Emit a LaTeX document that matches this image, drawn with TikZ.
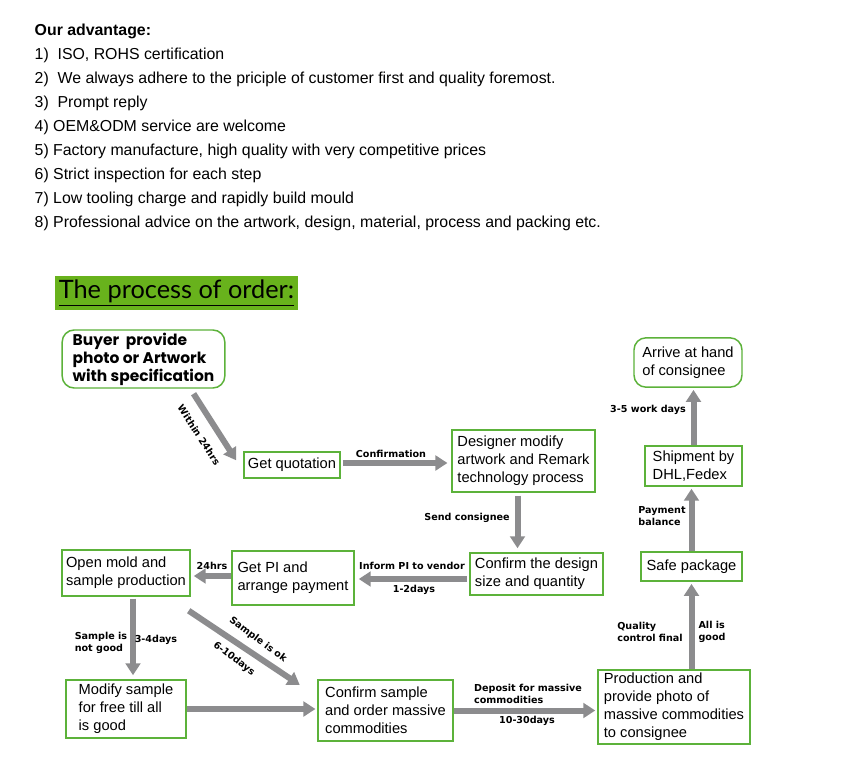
\documentclass[tikz,border=0pt]{standalone}
\usepackage{fontspec}
\setmainfont{Liberation Sans}
\newfontfamily\gothicfont{Poppins}
\newfontfamily\tagfont{DejaVu Sans}
\newfontfamily\titlefont{Lato}
\usepackage{xcolor}
\usetikzlibrary{positioning,arrows.meta,calc}
\definecolor{boxgreen}{RGB}{92,178,58}
\definecolor{titlegreen}{RGB}{104,178,28}
\definecolor{flowgray}{RGB}{140,140,142}
\tikzset{
    order box/.style={rectangle, draw=boxgreen, line width=1.1pt, fill=white, align=left, inner xsep=3pt, inner ysep=2pt, font=\fontsize{11}{13.5}\selectfont},
    start box/.style={order box, rounded corners=9pt},
    gothic/.style={font=\gothicfont\bfseries\fontsize{11.6}{13.5}\selectfont},
    tag/.style={font=\tagfont\bfseries\fontsize{7.2}{9.5}\selectfont, inner sep=1pt, align=left},
    flow/.style={draw=flowgray, line width=4.5pt, -{Triangle[length=9pt,width=11pt]}, shorten >=1.5pt}
}
\begin{document}
\begin{tikzpicture}[x=0.75pt, y=-0.75pt]
\useasboundingbox (0,0) rectangle (841,780);
\fill[white] (0,0) rectangle (841,780);

% Advantage list
\node[anchor=base west, font=\bfseries\fontsize{11.9}{13}\selectfont] (head) at (30,36) {Our advantage:};
\foreach \txt [count=\i] in {{1)~ ISO, ROHS certification},
    {2)~ We always adhere to the priciple of customer first and quality foremost.},
    {3)~ Prompt reply},
    {4) OEM\&ODM service are welcome},
    {5) Factory manufacture, high quality with very competitive prices},
    {6) Strict inspection for each step},
    {7) Low tooling charge and rapidly build mould},
    {8) Professional advice on the artwork, design, material, process and packing etc.}}
    \node[anchor=base west, font=\fontsize{11.9}{13}\selectfont] (adv\i) at (30,36+24*\i) {\txt};

% Title
\node[fill=titlegreen, minimum width=182pt, minimum height=25.5pt, inner xsep=1pt, font=\titlefont\fontsize{19}{22}\selectfont] (title) at (176.5,293) {\underline{The process of order:}};

% Main process nodes
\node[start box, gothic, minimum width=122pt, minimum height=43.5pt] (buyer) at (143.5,359) {Buyer~ provide\\photo or Artwork\\with specification};
\node[order box, minimum width=72pt, minimum height=19.5pt] (quote) at (292,465) {Get quotation};
\node[order box, minimum width=107pt, minimum height=46.5pt] (designer) at (523.5,461) {Designer modify\\artwork and Remark\\technology process};
\node[start box, minimum width=81pt, minimum height=37pt] (arrive) at (688,362.5) {Arrive at hand\\of consignee};
\node[order box, minimum width=73pt, minimum height=30pt] (ship) at (693.5,466) {Shipment by\\DHL,Fedex};
\node[order box, minimum width=76pt, minimum height=22pt] (safe) at (691.5,566.5) {Safe package};
\node[order box, minimum width=100pt, minimum height=31.5pt] (design) at (536.5,574) {Confirm the design\\size and quantity};
\node[order box, minimum width=91.5pt, minimum height=40.5pt] (getpi) at (293,578) {Get PI and\\arrange payment};
\node[order box, minimum width=96pt, minimum height=34.5pt] (openmold) at (126,573) {Open mold and\\sample production};
\node[order box, minimum width=90pt, minimum height=43.5pt] (modify) at (126,709) {Modify sample\\for free till all\\is good};
\node[order box, minimum width=101pt, minimum height=46pt] (confirmsample) at (385.5,710.5) {Confirm sample\\and order massive\\commodities};
\node[order box, minimum width=114pt, minimum height=55.5pt] (production) at (674,707) {Production and\\provide photo of\\massive commodities\\to consignee};

% Arrows
\draw[flow] ($(buyer.south east)+(-32,5)$) -- ($(quote.west)+(-6,-3)$);
\draw[flow] ($(quote.east)+(2,-2)$) -- ($(quote.east -| designer.west)+(-2,-2)$);
\draw[flow] ($(designer.south)+(-6,3)$) -- ($(designer.south |- design.north)+(-6,-2)$);
\draw[flow] ($(design.west)+(-2,5)$) -- ($(design.west -| getpi.east)+(2,5)$);
\draw[flow] ($(getpi.west)+(0,-2)$) -- ($(getpi.west -| openmold.east)+(1,-2)$);
\draw[flow] ($(openmold.south)+(7,2)$) -- ($(openmold.south |- modify.north)+(7,-2)$);
\draw[flow] ($(openmold.south east)+(-2,14)$) -- ($(confirmsample.north west)+(-16,7)$);
\draw[flow] (modify.east) -- (modify.east -| confirmsample.west);
\draw[flow] (confirmsample.east) -- (confirmsample.east -| production.west);
\draw[flow] (safe.south |- production.north) -- (safe.south);
\draw[flow] (safe.north) -- (safe.north |- ship.south);
\draw[flow] (ship.north) -- (ship.north |- arrive.south);

% Arrow labels
\node[tag, rotate=-57] (lwithin) at (199,435) {Within 24hrs};
\node[tag] (lconfirm) at (391,454) {Confirmation};
\node[tag] (lsend) at (467,518) {Send consignee};
\node[tag] (linform) at (412,566) {Inform PI to vendor};
\node[tag] (lpidays) at (414,590) {1-2days};
\node[tag] (lhrs) at (212,566) {24hrs};
\node[tag] (lbad) at (101,643) {Sample is\\not good};
\node[tag] (lbaddays) at (156,640) {3-4days};
\node[tag, rotate=-37] (lok) at (258,640) {Sample is ok};
\node[tag, rotate=-37] (lokdays) at (234,659) {6-10days};
\node[tag] (ldeposit) at (528,694) {Deposit for massive\\commodities};
\node[tag] (ldepdays) at (527,721) {10-30days};
\node[tag] (lquality) at (650,632) {Quality\\control final};
\node[tag] (lgood) at (712,632) {All is\\good};
\node[tag] (lpay) at (662,516) {Payment\\balance};
\node[tag] (lship) at (648,410) {3-5 work days};
\end{tikzpicture}
\end{document}
